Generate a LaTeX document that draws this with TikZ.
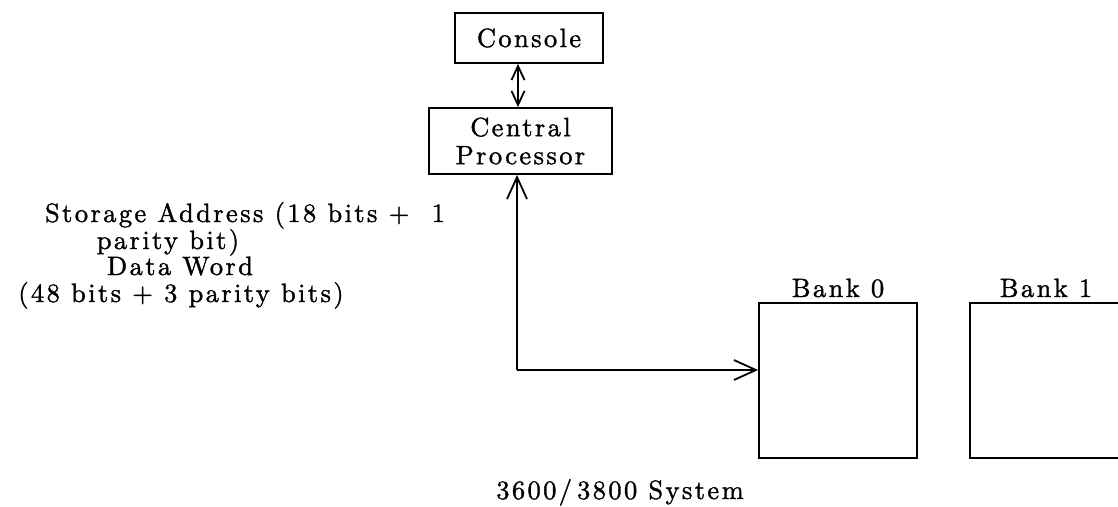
\documentclass[tikz,border=0pt]{standalone}
\usepackage{fontspec}
\newfontfamily\lmls{lmroman10-regular.otf}[LetterSpace=9,FakeBold=1.3]
\usetikzlibrary{arrows.meta,calc}
\newcommand\dtxt{\lmls\fontsize{26.5}{27}\selectfont}
\begin{document}
\begin{tikzpicture}[x=1pt,y=-1pt,
  box/.style={draw,line width=1.8pt,inner sep=0pt,font=\dtxt,align=center},
  txt/.style={inner sep=0pt,font=\dtxt,anchor=base},
  conn/.style={line width=1.8pt},
  bigtip/.style={-{Straight Barb[length=22pt,width=20pt]}},
  smalltip/.style={{Straight Barb[length=14pt,width=13pt]}-{Straight Barb[length=14pt,width=13pt]}}]
\useasboundingbox (0,0) rectangle (1118,506);
\node[box,minimum width=148pt,minimum height=50pt] (console) at (529,38) {Console};
\node[box,minimum width=183pt,minimum height=66pt] (cp) at (520.5,141) {Central\\[1pt]Processor};
\node[box,minimum width=158pt,minimum height=155pt] (bank0) at (838,380.5) {};
\node[box,minimum width=158pt,minimum height=155pt] (bank1) at (1049,380.5) {};
\node[txt] (b0t) at (838,297) {Bank 0};
\node[txt] (b1t) at (1046,297) {Bank 1};
\node[txt] (title) at (620,499) {3600/\hspace{5pt}3800 System};
\node[txt] (l1) at (245,222) {Storage Address (18 bits + \ 1};
\node[txt] (l2) at (168,249) {parity bit)};
\node[txt] (l3) at (180,275) {Data Word};
\node[txt] (l4) at (181,302) {(48 bits + 3 parity bits)};
\coordinate (corner) at (517,370);
\draw[conn,smalltip] (console.south -| 518,0) -- (cp.north -| 518,0);
\draw[conn,bigtip] (corner) -- (corner |- cp.south);
\draw[conn,bigtip] (corner) -- (corner -| bank0.west);
\end{tikzpicture}
\end{document}
